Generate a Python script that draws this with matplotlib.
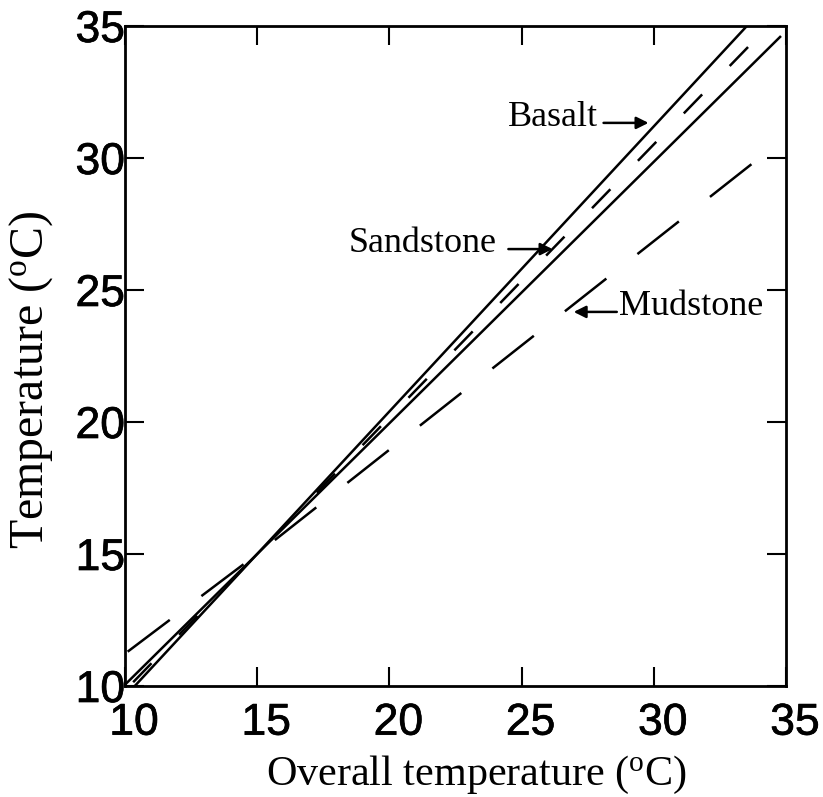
import matplotlib
matplotlib.use("Agg")
import matplotlib.pyplot as plt
import matplotlib.patheffects as pe
from matplotlib.transforms import ScaledTranslation

plt.rcParams['mathtext.fontset'] = 'custom'
plt.rcParams['mathtext.rm'] = 'Liberation Serif'
plt.rcParams['lines.scale_dashes'] = False

# ---- data ----
basalt_x = [10.37, 15.0, 33.52]
basalt_y = [10.0, 15.0, 35.0]

sandstone_x = [10.17, 15.0, 33.9]
sandstone_y = [10.0, 15.0, 34.55]

plain_x = [10.0, 15.0, 34.81]
plain_y = [10.05, 15.0, 34.62]

mudstone_x = [10.1, 15.0, 20.0, 25.0, 30.0, 33.7]
mudstone_y = [11.3, 15.0, 18.95, 22.9, 26.85, 29.77]

ticks = [10, 15, 20, 25, 30, 35]
tick_labels = ['10', '15', '20', '25', '30', '35']

W, H = 823, 797
fig = plt.figure(figsize=(W / 100, H / 100), dpi=100)
ax = fig.add_axes([125 / W, 1 - 686 / H, (786 - 125) / W, (686 - 26) / H])

LW = 1.8
ax.plot(basalt_x, basalt_y, color='black', lw=LW, solid_capstyle='butt')
ax.plot(plain_x, plain_y, color='black', lw=LW, solid_capstyle='butt')
ax.plot(sandstone_x, sandstone_y, color='black', lw=LW,
        linestyle=(43.7, (19.0, 28.5)), dash_capstyle='butt')
ax.plot(mudstone_x, mudstone_y, color='black', lw=LW,
        linestyle=(0, (38.0, 28.5)), dash_capstyle='butt')

ax.set_xlim(10, 35)
ax.set_ylim(10, 35)
ax.set_xticks(ticks)
ax.set_xticklabels(tick_labels)
ax.set_yticks(ticks)
ax.set_yticklabels(tick_labels)

for s in ax.spines.values():
    s.set_linewidth(2.0)

thick = [pe.withStroke(linewidth=0.5, foreground='black')]

ax.tick_params(axis='both', direction='in', length=14, width=1.5,
               top=True, right=True, labelsize=32)
ax.tick_params(axis='x', pad=12)
ax.tick_params(axis='y', pad=0)
for lab in ax.get_xticklabels() + ax.get_yticklabels():
    lab.set_fontfamily('Liberation Sans')
    lab.set_path_effects(thick)
for lab in ax.get_xticklabels():
    lab.set_transform(lab.get_transform() + ScaledTranslation(9 / 100, 0, fig.dpi_scale_trans))

serif = 'Liberation Serif'
fig.text(476 / W, 1 - 785 / H, r'Overall temperature ($\mathregular{^o}$C)',
         fontsize=30.3, family=serif, ha='center', va='baseline')
fig.text(31 / W, 1 - 380 / H, r'Temperature ($\mathregular{^o}$C)',
         fontsize=34.5, family=serif, ha='center', va='center', rotation=90)

arrow = dict(arrowstyle='-|>', color='black', lw=1.8, mutation_scale=18,
             shrinkA=0, shrinkB=0)
ax.text(24.47, 31.21, 'Basalt', fontsize=26, family=serif, ha='left', va='baseline')
ax.annotate('', xy=(29.8, 31.33), xytext=(28.1, 31.33), arrowprops=arrow)

ax.text(18.45, 26.44, 'Sandstone', fontsize=26, family=serif, ha='left', va='baseline')
ax.annotate('', xy=(26.17, 26.55), xytext=(24.5, 26.55), arrowprops=arrow)

ax.text(28.67, 24.05, 'Mudstone', fontsize=26, family=serif, ha='left', va='baseline')
ax.annotate('', xy=(26.97, 24.17), xytext=(28.6, 24.17), arrowprops=arrow)

fig.savefig('out.png', dpi=100)
